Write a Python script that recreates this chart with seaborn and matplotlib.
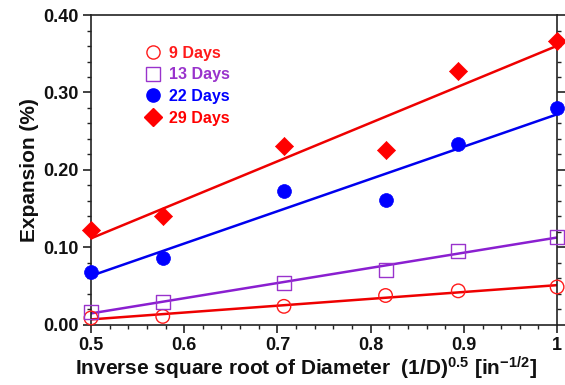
import numpy as np
import pandas as pd
import matplotlib
matplotlib.use("Agg")
import matplotlib.pyplot as plt
from matplotlib.ticker import MultipleLocator
from matplotlib.lines import Line2D
import seaborn as sns

# Data
x_vals = [0.5, 0.577, 0.707, 0.816, 0.894, 1.0]
days_9 = [0.009, 0.011, 0.024, 0.038, 0.044, 0.049]
days_13 = [0.017, 0.030, 0.054, 0.071, 0.096, 0.114]
days_22 = [0.068, 0.087, 0.173, 0.161, 0.234, 0.280]
days_29 = [0.122, 0.140, 0.231, 0.226, 0.328, 0.366]
labels = ["9 Days", "13 Days", "22 Days", "29 Days"]

sns.set_theme(style="white")
plt.rcParams['font.family'] = ['Liberation Sans', 'DejaVu Sans']
plt.rcParams['font.weight'] = 'bold'
plt.rcParams['mathtext.fontset'] = 'custom'
plt.rcParams['mathtext.rm'] = 'Liberation Sans:bold'
plt.rcParams['mathtext.bf'] = 'Liberation Sans:bold'
plt.rcParams['mathtext.it'] = 'Liberation Sans:bold'
plt.rcParams['mathtext.default'] = 'bf'

series = [days_9, days_13, days_22, days_29]
colors = ["#FF1A1A", "#9933CC", "#0000FF", "#FF0000"]
line_colors = ["#EE0000", "#8A1FD0", "#0000EE", "#EE0000"]
markers = ["o", "s", "o", "D"]
filled = [False, False, True, True]
sizes = [95, 100, 100, 85]

fig = plt.figure(figsize=(5.65, 3.85), dpi=100)
ax = fig.add_axes([0.161, 0.156, 0.825, 0.805])

handles = []
for ys, lab, c, lc, m, f, s in zip(series, labels, colors, line_colors, markers, filled, sizes):
    df = pd.DataFrame({"x": x_vals, "y": ys})
    sns.regplot(data=df, x="x", y="y", ax=ax, ci=None, scatter=False,
                line_kws=dict(color=lc, lw=1.8, zorder=2))
    if f:
        sns.scatterplot(data=df, x="x", y="y", ax=ax, marker=m, s=s,
                        color=c, edgecolor=c, linewidth=0.5, zorder=3, clip_on=False)
    else:
        ax.scatter(df["x"], df["y"], marker=m, s=s, facecolors="none",
                   edgecolors=c, linewidths=1.0, zorder=3, clip_on=False)
    handles.append(Line2D([], [], ls="none", marker=m, markersize=9.5 if m != "D" else 9,
                          markerfacecolor=(c if f else "none"), markeredgecolor=c,
                          markeredgewidth=1.0))

ax.set_xlim(0.5, 1.0)
ax.set_ylim(0.0, 0.40)
ax.xaxis.set_major_locator(MultipleLocator(0.1))
ax.xaxis.set_minor_locator(MultipleLocator(0.02))
ax.yaxis.set_major_locator(MultipleLocator(0.1))
ax.yaxis.set_minor_locator(MultipleLocator(0.02))
ax.set_xticks([0.5, 0.6, 0.7, 0.8, 0.9, 1.0])
ax.set_xticklabels(["0.5", "0.6", "0.7", "0.8", "0.9", "1"])
ax.set_yticks([0.0, 0.1, 0.2, 0.3, 0.4])
ax.set_yticklabels(["0.00", "0.10", "0.20", "0.30", "0.40"])

for sp in ax.spines.values():
    sp.set_visible(True)
    sp.set_color("#222222")
    sp.set_linewidth(1.2)

ax.tick_params(axis="both", which="major", direction="out", length=6, width=1.2,
               color="#222222", labelsize=13, pad=3)
ax.tick_params(axis="both", which="minor", direction="out", length=3, width=1.0,
               color="#222222")
ax.tick_params(axis="y", which="both", left=True, right=True)
ax.tick_params(axis="x", which="both", bottom=True, top=False)
for t in ax.get_xticklabels() + ax.get_yticklabels():
    t.set_fontweight("bold")
    t.set_color("#111111")

ax.set_xlabel(r"Inverse square root of Diameter  (1/D)$^{0.5}$ [in$^{-1/2}$]",
              fontsize=15, fontweight="bold", labelpad=0, color="#111111")
ax.xaxis.set_label_coords(0.462, -0.095)
ax.set_ylabel("Expansion (%)", fontsize=15, fontweight="bold", labelpad=3, color="#111111")

leg = ax.legend(handles, labels, loc="upper left", bbox_to_anchor=(0.085, 0.948),
                frameon=False, handlelength=1.0, handletextpad=0.5,
                labelspacing=0.42, prop=dict(weight="bold", size=11.5))
for txt, c in zip(leg.get_texts(), colors):
    txt.set_color(c)

fig.savefig("out.png", dpi=100)
